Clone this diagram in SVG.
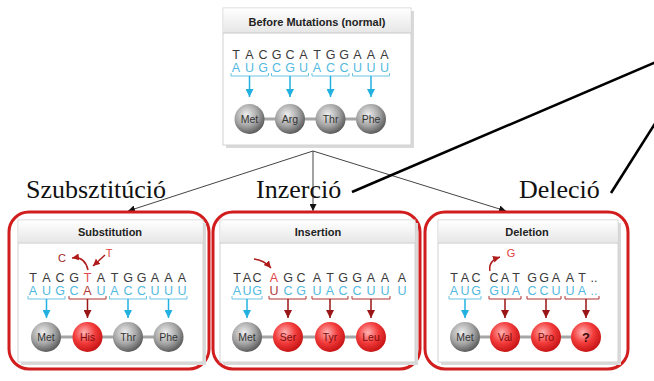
<svg xmlns="http://www.w3.org/2000/svg" width="654" height="381" viewBox="0 0 654 381">
<defs>
<style>
.dna{font-family:"Liberation Sans",Arial,sans-serif;font-size:12.5px;fill:#3a3a3a;text-anchor:middle}
.rna{font-family:"Liberation Sans",Arial,sans-serif;font-size:12.5px;fill:#52b9e0;text-anchor:middle}
.mr{fill:#e04848}
.mrd{fill:#b03838}
.ttl{font-family:"Liberation Sans",Arial,sans-serif;font-weight:bold;font-size:11px;fill:#222;text-anchor:middle}
.aa{font-family:"Liberation Sans",Arial,sans-serif;font-size:10.5px;fill:#333;text-anchor:middle}
.aar{font-family:"Liberation Sans",Arial,sans-serif;font-size:10.5px;fill:#7a0c0c;text-anchor:middle}
.lbl{font-family:"Liberation Serif","Times New Roman",serif;font-size:26px;fill:#111}
.frame{fill:#fff;stroke:#d11d1d;stroke-width:3}
.card{fill:#fff;stroke:#d2d2d2;stroke-width:1}
.shadow{fill:#d9d9d9}
.hdr{fill:url(#hg)}
.hline{stroke:#c8c8c8;stroke-width:1}
.brb{fill:none;stroke:#6cc3e3;stroke-width:1}
.brr{fill:none;stroke:#b03030;stroke-width:1}
.arb{stroke:#22b0e0;stroke-width:1.5;marker-end:url(#mb)}
.arr{stroke:#9a1515;stroke-width:1.5;marker-end:url(#mr)}
.mut{fill:none;stroke:#b01c1c;stroke-width:1.5;marker-end:url(#mm)}
.chain{stroke:#a6a6a6;stroke-width:3}
.cg{fill:url(#gg)}
.cr{fill:url(#rg)}
.conn{stroke:#444;stroke-width:1;fill:none;marker-end:url(#mk)}
.thick{stroke:#000;stroke-width:2.6;fill:none}
</style>
<linearGradient id="hg" x1="0" y1="0" x2="0" y2="1"><stop offset="0" stop-color="#ffffff"/><stop offset="1" stop-color="#e6e6e6"/></linearGradient>
<radialGradient id="gg" cx="0.4" cy="0.35" r="0.7"><stop offset="0" stop-color="#eeeeee"/><stop offset="0.55" stop-color="#a4a4a4"/><stop offset="1" stop-color="#505050"/></radialGradient>
<radialGradient id="rg" cx="0.4" cy="0.35" r="0.7"><stop offset="0" stop-color="#ffb4b4"/><stop offset="0.5" stop-color="#f33c3c"/><stop offset="1" stop-color="#c00e0e"/></radialGradient>
<marker id="mb" viewBox="0 0 10 10" refX="10" refY="5" markerWidth="8" markerHeight="8" markerUnits="userSpaceOnUse" orient="auto"><path d="M0,0 L10,5 L0,10 z" fill="#22b0e0"/></marker>
<marker id="mr" viewBox="0 0 10 10" refX="10" refY="5" markerWidth="8" markerHeight="8" markerUnits="userSpaceOnUse" orient="auto"><path d="M0,0 L10,5 L0,10 z" fill="#9a1515"/></marker>
<marker id="mm" viewBox="0 0 10 10" refX="10" refY="5" markerWidth="7" markerHeight="7" markerUnits="userSpaceOnUse" orient="auto"><path d="M0,0 L10,5 L0,10 z" fill="#b01c1c"/></marker>
<marker id="mk" viewBox="0 0 10 10" refX="10" refY="5" markerWidth="7" markerHeight="7" markerUnits="userSpaceOnUse" orient="auto"><path d="M0,0 L10,5 L0,10 z" fill="#111"/></marker>
</defs>
<rect width="654" height="381" fill="#fff"/>

<g id="connectors">
<path class="conn" d="M313,151 L128,211"/>
<path class="conn" d="M313,151 L313,211"/>
<path class="conn" d="M313,151 L506,211"/>
<path class="thick" d="M352,192 L656,62"/>
<path class="thick" d="M611,193 L656,122"/>
</g>

<g id="before">
<rect class="shadow" x="226" y="11" width="188" height="137"/>
<rect class="card" x="223" y="8" width="188" height="137"/>
<rect class="hdr" x="223.5" y="8.5" width="187" height="24.5"/>
<line class="hline" x1="223" y1="33" x2="411" y2="33"/>
<text class="ttl" x="317" y="26">Before Mutations (normal)</text>
<g class="dna"><text x="236" y="59">T</text><text x="249.5" y="59">A</text><text x="263" y="59">C</text><text x="276.5" y="59">G</text><text x="290" y="59">C</text><text x="303.5" y="59">A</text><text x="317" y="59">T</text><text x="330.5" y="59">G</text><text x="344" y="59">G</text><text x="357.5" y="59">A</text><text x="371" y="59">A</text><text x="384.5" y="59">A</text></g>
<g class="rna"><text x="236" y="72">A</text><text x="249.5" y="72">U</text><text x="263" y="72">G</text><text x="276.5" y="72">C</text><text x="290" y="72">G</text><text x="303.5" y="72">U</text><text x="317" y="72">A</text><text x="330.5" y="72">C</text><text x="344" y="72">C</text><text x="357.5" y="72">U</text><text x="371" y="72">U</text><text x="384.5" y="72">U</text></g>
<path class="brb" d="M231,73 V76 H268.5 V73 M271.5,73 V76 H308.5 V73 M312,73 V76 H349 V73 M352.5,73 V76 H389.5 V73"/>
<line class="arb" x1="249.5" y1="76" x2="249.5" y2="97"/>
<line class="arb" x1="290" y1="76" x2="290" y2="97"/>
<line class="arb" x1="330.5" y1="76" x2="330.5" y2="97"/>
<line class="arb" x1="371" y1="76" x2="371" y2="97"/>
<line class="chain" x1="249.5" y1="119" x2="371" y2="119"/>
<circle class="cg" cx="249.5" cy="119" r="15"/><circle class="cg" cx="290" cy="119" r="15"/><circle class="cg" cx="330.5" cy="119" r="15"/><circle class="cg" cx="371" cy="119" r="15"/>
<text class="aa" x="249.5" y="122.5">Met</text><text class="aa" x="290" y="122.5">Arg</text><text class="aa" x="330.5" y="122.5">Thr</text><text class="aa" x="371" y="122.5">Phe</text>
</g>

<g id="labels">
<text class="lbl" x="26" y="198">Szubsztitúció</text>
<text class="lbl" x="256" y="198">Inzerció</text>
<text class="lbl" x="519" y="198">Deleció</text>
</g>

<g id="substitution">
<rect class="frame" x="9" y="212" width="200" height="157" rx="20"/>
<rect class="shadow" x="21" y="223" width="185" height="142"/>
<rect class="card" x="18" y="220" width="185" height="142"/>
<rect class="hdr" x="18.5" y="220.5" width="184" height="22"/>
<line class="hline" x1="18" y1="243" x2="203" y2="243"/>
<text class="ttl" x="110" y="236">Substitution</text>
<text class="dna" x="62" y="262" style="fill:#a02828;font-size:11px">C</text>
<text class="dna" x="109" y="257" style="fill:#e04040;font-size:11px">T</text>
<path class="mut" d="M88,270 Q85,256 72,258"/>
<path class="mut" d="M105,255 L93,266"/>
<g class="dna"><text x="33" y="282">T</text><text x="46.5" y="282">A</text><text x="60" y="282">C</text><text x="74" y="282">G</text><text x="87.5" y="282" class="mr">T</text><text x="101" y="282">A</text><text x="114.5" y="282">T</text><text x="128" y="282">G</text><text x="141.5" y="282">G</text><text x="155" y="282">A</text><text x="168.5" y="282">A</text><text x="182" y="282">A</text></g>
<g class="rna"><text x="33" y="295">A</text><text x="46.5" y="295">U</text><text x="60" y="295">G</text><text x="74" y="295">C</text><text x="87.5" y="295" class="mrd">A</text><text x="101" y="295">U</text><text x="114.5" y="295">A</text><text x="128" y="295">C</text><text x="141.5" y="295">C</text><text x="155" y="295">U</text><text x="168.5" y="295">U</text><text x="182" y="295">U</text></g>
<path class="brb" d="M28,296 V299 H65 V296 M109.5,296 V299 H146.5 V296 M150,296 V299 H187 V296"/>
<path class="brr" d="M69,296 V299 H106 V296"/>
<line class="arb" x1="46.5" y1="299" x2="46.5" y2="318"/>
<line class="arr" x1="87.5" y1="299" x2="87.5" y2="318"/>
<line class="arb" x1="128" y1="299" x2="128" y2="318"/>
<line class="arb" x1="168.5" y1="299" x2="168.5" y2="318"/>
<line class="chain" x1="46" y1="337" x2="169" y2="337"/>
<circle class="cg" cx="46" cy="337" r="15"/><circle class="cr" cx="87.5" cy="337" r="15"/><circle class="cg" cx="128" cy="337" r="15"/><circle class="cg" cx="168.5" cy="337" r="15"/>
<text class="aa" x="46" y="340.5">Met</text><text class="aar" x="87.5" y="340.5">His</text><text class="aa" x="128" y="340.5">Thr</text><text class="aa" x="168.5" y="340.5">Phe</text>
</g>

<g id="insertion">
<rect class="frame" x="213" y="212" width="207" height="157" rx="20"/>
<rect class="shadow" x="223" y="223" width="195" height="142"/>
<rect class="card" x="220" y="220" width="195" height="142"/>
<rect class="hdr" x="220.5" y="220.5" width="194" height="22"/>
<line class="hline" x1="220" y1="243" x2="415" y2="243"/>
<text class="ttl" x="318" y="236">Insertion</text>
<path class="mut" d="M254,259 Q264,260 271,268"/>
<g class="dna"><text x="237" y="282">T</text><text x="247" y="282">A</text><text x="257" y="282">C</text><text x="274" y="282" class="mr">A</text><text x="288" y="282">G</text><text x="301" y="282">C</text><text x="317" y="282">A</text><text x="330" y="282">T</text><text x="343" y="282">G</text><text x="357" y="282">G</text><text x="371" y="282">A</text><text x="385" y="282">A</text><text x="402" y="282">A</text></g>
<g class="rna"><text x="237" y="295">A</text><text x="247" y="295">U</text><text x="257" y="295">G</text><text x="274" y="295" class="mrd">U</text><text x="288" y="295">C</text><text x="301" y="295">G</text><text x="317" y="295">U</text><text x="330" y="295">A</text><text x="343" y="295">C</text><text x="357" y="295">C</text><text x="371" y="295">U</text><text x="385" y="295">U</text><text x="402" y="295">U</text></g>
<path class="brb" d="M232,296 V299 H262 V296"/>
<path class="brr" d="M269,296 V299 H306 V296 M312,296 V299 H348 V296 M352,296 V299 H390 V296"/>
<line class="arb" x1="247" y1="299" x2="247" y2="318"/>
<line class="arr" x1="288" y1="299" x2="288" y2="318"/>
<line class="arr" x1="330" y1="299" x2="330" y2="318"/>
<line class="arr" x1="371" y1="299" x2="371" y2="318"/>
<line class="chain" x1="247" y1="337" x2="371" y2="337"/>
<circle class="cg" cx="247" cy="337" r="15"/><circle class="cr" cx="288" cy="337" r="15"/><circle class="cr" cx="330" cy="337" r="15"/><circle class="cr" cx="371" cy="337" r="15"/>
<text class="aa" x="247" y="340.5">Met</text><text class="aar" x="288" y="340.5">Ser</text><text class="aar" x="330" y="340.5">Tyr</text><text class="aar" x="371" y="340.5">Leu</text>
</g>

<g id="deletion">
<rect class="frame" x="425" y="212" width="203" height="157" rx="20"/>
<rect class="shadow" x="441" y="223" width="180" height="142"/>
<rect class="card" x="438" y="220" width="180" height="142"/>
<rect class="hdr" x="438.5" y="220.5" width="179" height="22"/>
<line class="hline" x1="438" y1="243" x2="618" y2="243"/>
<text class="ttl" x="527" y="236">Deletion</text>
<text class="dna" x="511" y="257" style="fill:#e04040;font-size:11px">G</text>
<path class="mut" d="M490,271 Q488,261 500,257"/>
<g class="dna"><text x="454" y="282">T</text><text x="465" y="282">A</text><text x="476" y="282">C</text><text x="494" y="282">C</text><text x="505" y="282">A</text><text x="516" y="282">T</text><text x="532" y="282">G</text><text x="544" y="282">G</text><text x="556" y="282">A</text><text x="570" y="282">A</text><text x="582" y="282">T</text><text x="594" y="282">..</text></g>
<g class="rna"><text x="454" y="295">A</text><text x="465" y="295">U</text><text x="476" y="295">G</text><text x="494" y="295">G</text><text x="505" y="295">U</text><text x="516" y="295">A</text><text x="532" y="295">C</text><text x="544" y="295">C</text><text x="556" y="295">U</text><text x="570" y="295">U</text><text x="582" y="295">A</text><text x="594" y="295">..</text></g>
<path class="brb" d="M449,296 V299 H481 V296"/>
<path class="brr" d="M489,296 V299 H521 V296 M527,296 V299 H561 V296 M565,296 V299 H599 V296"/>
<line class="arb" x1="465" y1="299" x2="465" y2="318"/>
<line class="arr" x1="505" y1="299" x2="505" y2="318"/>
<line class="arr" x1="546" y1="299" x2="546" y2="318"/>
<line class="arr" x1="586" y1="299" x2="586" y2="318"/>
<line class="chain" x1="465" y1="337" x2="586" y2="337"/>
<circle class="cg" cx="465" cy="337" r="15"/><circle class="cr" cx="505" cy="337" r="15"/><circle class="cr" cx="546" cy="337" r="15"/><circle class="cr" cx="586" cy="337" r="15"/>
<text class="aa" x="465" y="340.5">Met</text><text class="aar" x="505" y="340.5">Val</text><text class="aar" x="546" y="340.5">Pro</text><text class="aar" x="586" y="341.5" style="font-weight:bold;font-size:13px;fill:#3a0a0a">?</text>
</g>
</svg>
